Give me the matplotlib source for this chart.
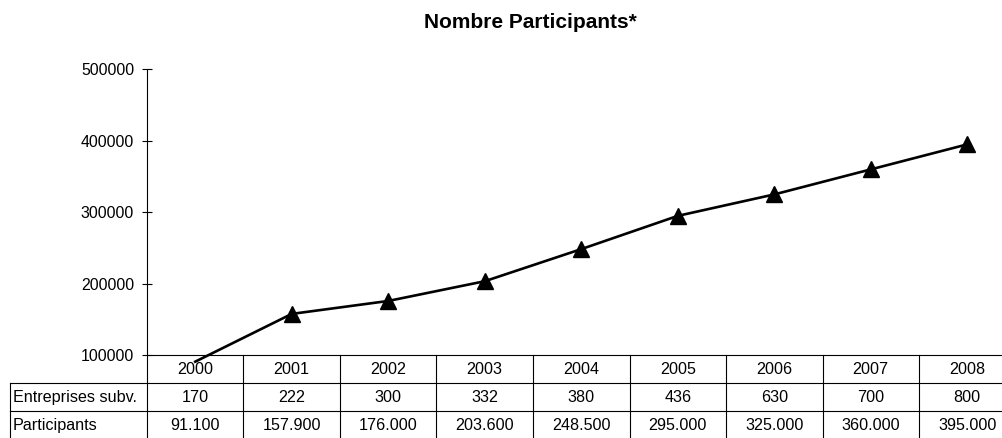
import matplotlib
matplotlib.use("Agg")
import matplotlib.pyplot as plt
from matplotlib.lines import Line2D
import numpy as np

plt.rcParams['font.family'] = ['Liberation Sans', 'DejaVu Sans']

years = ["2000", "2001", "2002", "2003", "2004", "2005", "2006", "2007", "2008"]
entreprises = ["170", "222", "300", "332", "380", "436", "630", "700", "800"]
participants_lbl = ["91.100", "157.900", "176.000", "203.600", "248.500",
                    "295.000", "325.000", "360.000", "395.000"]
participants = [91100, 157900, 176000, 203600, 248500, 295000, 325000, 360000, 395000]
row_labels = ["Entreprises subv.", "Participants"]
yticks = [100000, 200000, 300000, 400000, 500000]
title = "Nombre Participants*"

W, H = 1003, 438
fig = plt.figure(figsize=(W / 100, H / 100), dpi=100)

def fx(px):
    return px / W

def fy(py):
    return 1 - py / H

ax_left, ax_right, ax_top, ax_bottom = 147, 1015.5, 69.3, 355.3
ax = fig.add_axes([fx(ax_left), fy(ax_bottom), fx(ax_right - ax_left), (ax_bottom - ax_top) / H])

x = np.arange(len(years))
y = np.array(participants)
ax.plot(x, y, color='black', lw=1.9, zorder=3, clip_on=False)
mask = y >= yticks[0]
ax.plot(x[mask], y[mask], linestyle='none', marker='^', ms=11, color='black', zorder=4)

ax.set_xlim(-0.5, len(years) - 0.5)
ax.set_ylim(yticks[0], yticks[-1])
ax.set_yticks(yticks)
ax.set_yticklabels([str(v) for v in yticks], fontsize=11.4)
ax.tick_params(axis='y', direction='inout', length=7.5, width=0.8, pad=5.5)
ax.set_xticks([])
for s in ['top', 'right', 'bottom']:
    ax.spines[s].set_visible(False)
ax.spines['left'].set_linewidth(0.8)
ax.patch.set_alpha(0)

# Title
fig.text(fx(530), fy(22), title, fontsize=15, fontweight='bold', ha='center', va='center')

# Table
col_w = (ax_right - ax_left) / len(years)
rows_y = [ax_bottom, 383, 411, 439]
label_left = 10
lw = 0.8

def hline(x0, x1, yy):
    fig.add_artist(Line2D([fx(x0), fx(x1)], [fy(yy), fy(yy)], color='black', lw=lw))

def vline(xx, y0, y1):
    fig.add_artist(Line2D([fx(xx), fx(xx)], [fy(y0), fy(y1)], color='black', lw=lw))

hline(ax_left, ax_right, rows_y[0])
hline(label_left, ax_right, rows_y[1])
hline(label_left, ax_right, rows_y[2])
hline(label_left, ax_right, rows_y[3])
vline(label_left, rows_y[1], rows_y[3])
for k in range(len(years) + 1):
    xx = ax_left + k * col_w
    vline(xx, rows_y[0], rows_y[3])

rows = [years, entreprises, participants_lbl]
for r, vals in enumerate(rows):
    yc = (rows_y[r] + rows_y[r + 1]) / 2 + 0.5
    for k, v in enumerate(vals):
        xc = ax_left + (k + 0.5) * col_w
        fig.text(fx(xc), fy(yc), v, fontsize=11.6, ha='center', va='center')
for r, lbl in enumerate(row_labels):
    yc = (rows_y[r + 1] + rows_y[r + 2]) / 2 + 0.5
    fig.text(fx(13), fy(yc), lbl, fontsize=11.6, ha='left', va='center')

fig.savefig("out.png", dpi=100)
